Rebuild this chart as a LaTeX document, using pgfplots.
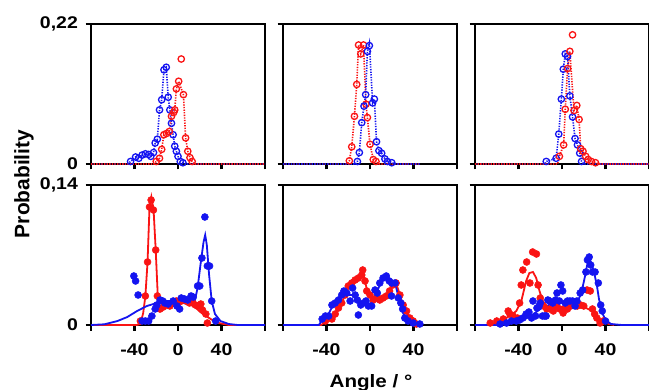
\documentclass[border=0pt]{standalone}
\usepackage{pgfplots}
\pgfplotsset{compat=1.18}
\usepackage{fontspec}
\setmainfont{Liberation Sans}
\newfontfamily\widefont{Liberation Sans}[FakeStretch=1.15]
\definecolor{pr}{RGB}{250,20,20}
\definecolor{pb}{RGB}{20,20,240}
\pgfplotsset{
  every axis/.append style={line width=2.6bp},
  panel/.style={scale only axis, width=174bp, height=140bp, xmin=-80, xmax=80,
    xtick={-80,-40,0,40,80}, tick align=outside, tick pos=left, major tick length=5.5bp,
    axis line style={line width=2.6bp},
    xtick style={line width=2.4bp, black}, ytick style={line width=2.4bp, black},
    clip=false, xticklabels={}, yticklabels={},
    ticklabel style={font=\widefont\bfseries\fontsize{17}{17}\selectfont},
    xticklabel shift=9bp, yticklabel shift=3bp},
  top/.style={panel, ymin=0, ymax=0.22, ytick={0,0.22}},
  bot/.style={panel, ymin=0, ymax=0.14, ytick={0,0.14}, xticklabels={{},-40,0,40,{}}},
  dl/.style={no markers, line width=1.6bp, dash pattern=on 1.3bp off 1.3bp},
  om/.style={only marks, mark=o, mark size=3.2bp, mark options={line width=1.3bp, solid}},
  sl/.style={no markers, line width=1.8bp},
  fm/.style={only marks, mark=*, mark size=3.5bp, mark options={line width=0.5bp}},
}
\begin{document}
\begin{tikzpicture}
% ---------------- top left
\begin{axis}[top, at={(91bp,226bp)}, anchor=south west, yticklabels={0,{0,22}}]
\addplot[pb, dl] coordinates {(-80,0) (-46,0) (-43.6,0.004) (-39,0.011) (-36,0.009) (-33,0.014) (-30,0.016) (-27,0.015) (-25,0.012) (-22.5,0.018) (-21,0.033) (-19,0.039) (-17,0.085) (-15,0.101) (-12.9,0.148) (-10.8,0.152) (-9,0.105) (-7.5,0.085) (-6,0.064) (-4.5,0.046) (-3,0.028) (-1.5,0.020) (0,0.012) (2.1,0.004) (4.5,0.002) (7,0) (80,0)};
\addplot[pb, om] coordinates {(-43.6,0.004) (-39,0.011) (-36,0.009) (-33,0.014) (-30,0.016) (-27,0.015) (-25,0.012) (-22.5,0.018) (-21,0.033) (-19,0.039) (-17,0.085) (-15,0.101) (-12.9,0.148) (-10.8,0.152) (-9,0.105) (-7.5,0.085) (-6,0.064) (-4.5,0.046) (-3,0.028) (-1.5,0.020) (0,0.012) (2.1,0.004) (4.5,0.002)};
\addplot[pr, dl] coordinates {(-80,0) (-22,0) (-20,0.004) (-17,0.009) (-15,0.023) (-13,0.046) (-10.5,0.048) (-8,0.051) (-6,0.075) (-4,0.081) (-3,0.085) (-1.5,0.118) (0.6,0.130) (5,0.109) (7,0.041) (9,0.020) (11,0.010) (13,0.004) (15,0) (80,0)};
\addplot[pr, om] coordinates {(-20,0.004) (-17,0.009) (-15,0.023) (-13,0.046) (-10.5,0.048) (-8,0.051) (-6,0.075) (-4,0.081) (-3,0.085) (-1.5,0.118) (0.6,0.130) (3,0.165) (5,0.109) (7,0.041) (9,0.020) (11,0.010) (13,0.004)};
\end{axis}
% ---------------- top middle
\begin{axis}[top, at={(283bp,226bp)}, anchor=south west]
\addplot[pr, dl] coordinates {(-80,0) (-21,0) (-19,0.005) (-16.8,0.027) (-14.3,0.075) (-12.2,0.125) (-10.5,0.187) (-8.5,0.173) (-6,0.187) (-3.7,0.094) (-2.4,0.073) (0,0.031) (3,0.007) (5.5,0.004) (8,0) (46,0)};
\addplot[pr, om] coordinates {(-19,0.005) (-16.8,0.027) (-14.3,0.075) (-12.2,0.125) (-10.5,0.187) (-8.5,0.173) (-6,0.187) (-3.7,0.094) (-2.4,0.073) (0,0.031) (3,0.007) (5.5,0.004)};
\addplot[pb, dl] coordinates {(-80,0) (-13,0) (-11.6,0.004) (-9.8,0.018) (-7.6,0.065) (-5.5,0.091) (-4,0.109) (-2.4,0.177) (-0.6,0.19) (2.4,0.096) (4,0.102) (6,0.035) (8.2,0.021) (10.7,0.017) (13.7,0.008) (16,0.004) (20,0.002) (24,0) (46,0)};
\addplot[pb, om] coordinates {(-11.6,0.004) (-9.8,0.018) (-7.6,0.065) (-5.5,0.091) (-4,0.109) (-2.4,0.177) (-0.6,0.186) (2.4,0.096) (4,0.102) (6,0.035) (8.2,0.021) (10.7,0.017) (13.7,0.008) (16,0.004) (20,0.002)};
\end{axis}
% ---------------- top right
\begin{axis}[top, at={(475bp,226bp)}, anchor=south west]
\addplot[pb, dl] coordinates {(-80,0) (-16,0) (-14.5,0.004) (-5.4,0.009) (-3,0.047) (-0.6,0.102) (1.2,0.149) (3,0.173) (5.1,0.169) (7.2,0.107) (9.7,0.074) (12,0.040) (14.2,0.030) (16.3,0.017) (18,0.004) (20,0) (80,0)};
\addplot[pb, om] coordinates {(-14.5,0.004) (-5.4,0.009) (-3,0.047) (-0.6,0.102) (1.2,0.149) (3,0.173) (5.1,0.169) (7.2,0.107) (9.7,0.074) (12,0.040) (14.2,0.030) (16.3,0.017) (18,0.004)};
\addplot[pr, dl] coordinates {(-80,0) (-4,0) (-2.4,0.012) (1.5,0.030) (3,0.086) (5.1,0.150) (7.2,0.177) (11,0.084) (13.6,0.092) (15.7,0.070) (17.2,0.024) (19.3,0.020) (21.8,0.012) (24,0.007) (27,0.004) (30.8,0.002) (34,0) (80,0)};
\addplot[pr, om] coordinates {(-2.4,0.012) (1.5,0.030) (3,0.086) (5.1,0.150) (7.2,0.177) (9.7,0.203) (11,0.084) (13.6,0.092) (15.7,0.070) (17.2,0.024) (19.3,0.020) (21.8,0.012) (24,0.007) (27,0.004) (30.8,0.002)};
\end{axis}
% ---------------- bottom left
\begin{axis}[bot, at={(91bp,65bp)}, anchor=south west, yticklabels={0,{0,14}}]
\addplot[pr, sl] coordinates {(-80,0) (-38,0) (-34.6,0.001) (-32,0.012) (-30,0.029) (-28,0.063) (-26.2,0.118) (-24.5,0.128) (-22.5,0.116) (-20.5,0.075) (-18.6,0.029) (-16.5,0.014) (-13.5,0.017) (-7.5,0.022) (0,0.024) (7.5,0.024) (13.5,0.020) (19.5,0.014) (24,0.010) (28.6,0.007) (33,0.004) (37.6,0.002) (46.6,0) (80,0)};
\addplot[pr, fm] coordinates {(-34.6,0.004) (-30,0.029) (-28,0.063) (-26.2,0.118) (-24.7,0.125) (-22.6,0.115) (-20.5,0.075) (-19,0.029) (-16.5,0.016) (-13.5,0.018) (-10,0.020) (-7.5,0.019) (-4.5,0.022) (-1.5,0.024) (1.5,0.023) (4.5,0.025) (7.5,0.024) (10.5,0.022) (13.5,0.022) (16,0.020) (18,0.019) (21,0.021) (22.5,0.015) (25.6,0.011) (27,0.002)};
\addplot[pb, sl] coordinates {(-80,0) (-67.7,0.0007) (-55.6,0.004) (-46.6,0.008) (-37.6,0.014) (-28.6,0.019) (-19.5,0.022) (-10.5,0.024) (0,0.024) (10.5,0.020) (15,0.022) (18,0.037) (21,0.063) (23.5,0.083) (25,0.090) (26.5,0.080) (28.6,0.050) (31,0.024) (34,0.011) (39,0.004) (46.6,0.001) (55,0) (80,0)};
\addplot[pb, fm] coordinates {(-40.6,0.049) (-39,0.044) (-36.7,0.030) (-33,0.004) (-30,0.004) (-27,0.004) (-24,0.009) (-21,0.016) (-19.5,0.020) (-16.5,0.025) (-14,0.024) (-12,0.022) (-9,0.021) (-4.5,0.024) (-1,0.019) (1.5,0.016) (3,0.027) (6,0.026) (9,0.025) (12,0.029) (14,0.028) (18,0.039) (20,0.039) (22,0.067) (24.7,0.108) (27,0.059) (29,0.059) (31,0.024) (34.6,0.004)};
\end{axis}
% ---------------- bottom middle
\begin{axis}[bot, at={(283bp,65bp)}, anchor=south west]
\addplot[pr, sl] coordinates {(-80,0) (-45,0) (-41,0.003) (-35,0.006) (-32,0.011) (-29,0.017) (-26,0.022) (-23,0.030) (-20,0.038) (-16.8,0.042) (-13.7,0.045) (-10.7,0.047) (-7.6,0.050) (-6,0.050) (-4.6,0.044) (-3,0.036) (0,0.030) (3,0.026) (6,0.026) (9,0.026) (12,0.027) (15,0.029) (18,0.034) (21,0.040) (24,0.042) (27.5,0.030) (30.5,0.020) (33.6,0.013) (36.6,0.007) (39.7,0.004) (42.7,0.001) (46,0)};
\addplot[pr, fm] coordinates {(-41,0.004) (-35,0.006) (-32,0.011) (-29,0.017) (-26,0.022) (-23,0.030) (-20,0.039) (-16.8,0.042) (-13.7,0.045) (-10.7,0.047) (-7.6,0.050) (-6.7,0.055) (-4.6,0.044) (-3,0.034) (0,0.030) (3,0.025) (6,0.027) (9,0.025) (12,0.027) (15,0.029) (18,0.034) (21,0.040) (24,0.042) (27.5,0.030) (30.5,0.020) (33.6,0.014) (36.6,0.007) (39.7,0.004) (42.7,0.001)};
\addplot[pb, sl] coordinates {(-80,0) (-47,0) (-44,0.005) (-41,0.009) (-38,0.011) (-35,0.018) (-32,0.022) (-29,0.025) (-26,0.029) (-23,0.032) (-20,0.030) (-16,0.030) (-13,0.027) (-10,0.024) (-6,0.022) (-3,0.022) (0,0.021) (3,0.025) (6,0.032) (9,0.040) (12,0.045) (15,0.047) (18,0.045) (20,0.043) (23,0.042) (26,0.029) (28.4,0.020) (30,0.013) (33,0.006) (36,0.003) (40,0.001) (46,0)};
\addplot[pb, fm] coordinates {(-44,0.006) (-41,0.009) (-38,0.009) (-35,0.020) (-32,0.022) (-29,0.025) (-26,0.030) (-24,0.034) (-21.4,0.032) (-18.3,0.024) (-16,0.037) (-13.7,0.030) (-11.6,0.025) (-10.7,0.010) (-8.5,0.020) (-6,0.022) (-3.7,0.024) (-1.5,0.019) (1.5,0.019) (4.6,0.035) (6.7,0.032) (9,0.042) (12,0.047) (15,0.049) (17.7,0.044) (19.8,0.029) (20,0.042) (23,0.042) (26,0.027) (28.4,0.022) (30,0.016) (32,0.007) (35,0.004) (39.7,0.002) (45.8,0.001)};
\end{axis}
% ---------------- bottom right
\begin{axis}[bot, at={(475bp,65bp)}, anchor=south west]
\addplot[pr, sl] coordinates {(-70,0) (-60,0.002) (-48,0.009) (-42,0.014) (-37.4,0.024) (-33,0.044) (-30,0.052) (-26.7,0.053) (-23.7,0.047) (-20.7,0.034) (-17.6,0.024) (-14.6,0.019) (-10,0.018) (0,0.018) (10,0.018) (20,0.018) (28,0.014) (32.5,0.008) (37,0.004) (43,0.001) (48,0)};
\addplot[pr, fm] coordinates {(-66,0.002) (-60,0.004) (-54,0.006) (-49.5,0.014) (-48,0.011) (-45,0.009) (-41,0.007) (-39,0.022) (-37.5,0.040) (-36,0.055) (-32.5,0.063) (-29.5,0.042) (-27,0.073) (-23.5,0.071) (-22,0.040) (-20,0.027) (-17,0.019) (-14,0.016) (-11,0.016) (-8,0.014) (-5,0.019) (-2,0.016) (1,0.012) (3,0.017) (5,0.016) (8,0.019) (11,0.020) (14,0.019) (17,0.020) (20,0.019) (23,0.035) (26,0.034) (28,0.016) (30,0.011) (32,0.007) (35,0.002) (38,0.004)};
\addplot[pb, sl] coordinates {(-80,0) (-60,0) (-50,0.001) (-40,0.003) (-30,0.008) (-20,0.016) (-10,0.021) (0,0.023) (10,0.022) (15,0.025) (18,0.033) (21,0.048) (23.5,0.062) (25.5,0.066) (27.5,0.060) (30,0.050) (32,0.040) (34,0.026) (37,0.012) (40,0.005) (45,0.001) (55,0) (80,0)};
\addplot[pb, fm] coordinates {(-57,0.001) (-51,0.002) (-46.5,0.004) (-42,0.004) (-39,0.005) (-36,0.007) (-33,0.011) (-30.4,0.013) (-28,0.007) (-26.7,0.024) (-24.3,0.009) (-23,0.017) (-21,0.019) (-20,0.022) (-18,0.009) (-16,0.009) (-14.6,0.009) (-13,0.025) (-11.5,0.024) (-8.5,0.022) (-6,0.025) (-4.6,0.032) (-2.4,0.024) (-1,0.040) (0.6,0.034) (3,0.022) (5,0.024) (7.3,0.024) (9.7,0.024) (12,0.019) (13.7,0.024) (16.7,0.032) (19,0.035) (22,0.053) (23.4,0.065) (25,0.068) (26.4,0.060) (28,0.053) (30.4,0.053) (33.4,0.042) (35.6,0.020) (37,0.014) (40,0.004)};
\end{axis}
\node[rotate=90, font=\bfseries\fontsize{21}{21}\selectfont] at (24bp,206bp) {Probability};
\node[anchor=base, font=\widefont\bfseries\fontsize{18}{18}\selectfont] at (371bp,3bp) {Angle / °};
\pgfresetboundingbox
\path (0,0) rectangle (649bp,390bp);
\end{tikzpicture}
\end{document}
